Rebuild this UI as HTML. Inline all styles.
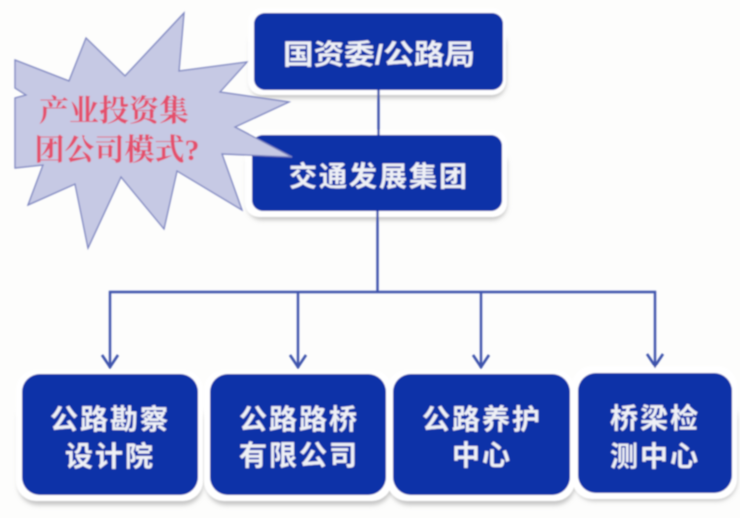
<!DOCTYPE html>
<html><head><meta charset="utf-8"><style>
html,body{margin:0;padding:0;background:#fdfdfc}
svg{display:block}
text{font-family:"Liberation Sans","Noto Sans CJK SC",sans-serif;font-weight:700;text-anchor:middle}
.w{fill:#eef0f6;font-size:28px;letter-spacing:2px}
.r{fill:#e4506c;font-size:30px;font-family:"Liberation Serif","Noto Serif CJK SC",serif}
</style></head><body>
<svg width="740" height="518" viewBox="0 0 740 518" xmlns="http://www.w3.org/2000/svg">
<defs>
<filter id="b" x="-10%" y="-10%" width="120%" height="120%"><feGaussianBlur stdDeviation="2"/></filter>
<filter id="s" x="-2%" y="-2%" width="104%" height="104%"><feGaussianBlur stdDeviation="0.7"/></filter>
</defs>
<rect width="740" height="518" fill="#fdfdfc"/>
<g filter="url(#s)">
<g fill="#c4c4c4" filter="url(#b)">
<rect x="250" y="30" width="256" height="68" rx="15"/>
<rect x="247" y="150" width="260" height="70" rx="15"/>
<rect x="18" y="400" width="185" height="105" rx="20"/>
<rect x="206" y="400" width="186" height="105" rx="20"/>
<rect x="389" y="400" width="186" height="105" rx="20"/>
<rect x="574" y="400" width="163" height="101" rx="20"/>
</g>
<g fill="#ffffff">
<rect x="248" y="8" width="258" height="87" rx="14"/>
<rect x="245" y="130" width="262" height="87" rx="14"/>
<rect x="16" y="370" width="187" height="131" rx="20"/>
<rect x="204" y="370" width="188" height="131" rx="20"/>
<rect x="387" y="370" width="188" height="131" rx="20"/>
<rect x="572" y="366" width="165" height="133" rx="20"/>
</g>
<g fill="#0a31a8">
<rect x="254" y="13" width="249" height="77" rx="11"/>
<rect x="252" y="135" width="250" height="76" rx="11"/>
<rect x="22" y="374" width="176" height="121" rx="18"/>
<rect x="210" y="374" width="176" height="121" rx="18"/>
<rect x="393" y="374" width="177" height="121" rx="18"/>
<rect x="578" y="373" width="154" height="120" rx="18"/>
</g>
<g fill="none" stroke="#3d52ac" stroke-width="2.4">
<path d="M378.500 90V135M377.500 211V292M110 368V292H655V366M298 292V368M481 292V368"/>
<path d="M102 355L110 367L118 355M290 355L298 367L306 355M473 355L481 367L489 355M647 354L655 366L663 354" stroke-width="2.6"/>
</g>
<polygon points="15,60 69,81 86,38 125,76 184,13 179,71 247,62 220,92 289,102 235,127 292,157 222,154 242,210 177,171 164,229 121,177 88,248 75,184 28,205 43,165 15,168 15,98 26,95 15,88" fill="#c6c9e4" stroke="#7a83bf" stroke-width="1.3"/>
<text class="w" x="379" y="64" textLength="192" lengthAdjust="spacingAndGlyphs" style="letter-spacing:0">国资委/公路局</text>
<text class="w" x="379" y="186">交通发展集团</text>
<text class="w" x="110" y="429">公路勘察</text>
<text class="w" x="110" y="466">设计院</text>
<text class="w" x="299" y="429">公路路桥</text>
<text class="w" x="299" y="465">有限公司</text>
<text class="w" x="482" y="429">公路养护</text>
<text class="w" x="482" y="465">中心</text>
<text class="w" x="655" y="428">桥梁检</text>
<text class="w" x="655" y="466">测中心</text>
<text class="r" x="114" y="121">产业投资集</text>
<text class="r" x="117" y="160">团公司模式?</text>
</g>
</svg>
</body></html>
